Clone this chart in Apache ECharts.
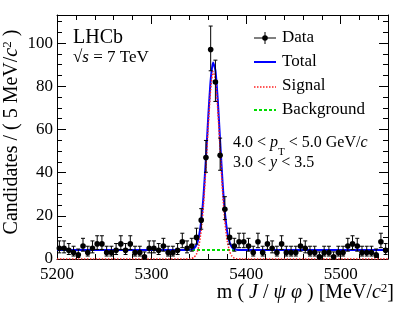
<!DOCTYPE html>
<html><head><meta charset="utf-8">
<script src="https://cdn.jsdelivr.net/npm/echarts@6/dist/echarts.min.js"></script>
<style>html,body{margin:0;padding:0;background:#fff}#c{width:409px;height:310px}</style>
</head><body><div id="c"></div>
<script>
// ---- data ----
const binCenters = [5202.5,5207.5,5212.5,5217.5,5222.5,5227.5,5232.5,5237.5,5242.5,5247.5,
  5252.5,5257.5,5262.5,5267.5,5272.5,5277.5,5282.5,5287.5,5292.5,5297.5,
  5302.5,5307.5,5312.5,5317.5,5322.5,5327.5,5332.5,5337.5,5342.5,5347.5,
  5352.5,5357.5,5362.5,5367.5,5372.5,5377.5,5382.5,5387.5,5392.5,5397.5,
  5402.5,5407.5,5412.5,5417.5,5422.5,5427.5,5432.5,5437.5,5442.5,5447.5,
  5452.5,5457.5,5462.5,5467.5,5472.5,5477.5,5482.5,5487.5,5492.5,5497.5,
  5502.5,5507.5,5512.5,5517.5,5522.5,5527.5,5532.5,5537.5,5542.5,5547.5];
const counts = [5,5,4,3,2,6,3,5,7,7,
  3,3,4,7,4,7,3,3,1,5,
  5,4,6,3,3,4,8,5,6,10,
  18,47,97,82,48,23,10,6,8,8,
  6,3,8,3,7,5,3,7,3,3,
  3,6,5,3,3,1,3,3,1,3,
  3,6,7,6,3,3,3,2,8,4];
const curveMass = [5200,5335,5340,5342.5,5345,5347.5,5350,5352.5,5355,5357.5,5360,5362.5,5365,
  5367.5,5370,5372.5,5375,5377.5,5380,5382.5,5385,5387.5,5390,5395,5550];
const signalCurve = [0,0,0.06,0.24,0.81,2.35,6.0,13.3,25.5,42.7,62.1,78.7,86.8,
  83.2,69.4,50.4,31.8,17.5,8.4,3.5,1.27,0.4,0.11,0,0];
const totalCurve = [4.2,4.2,4.26,4.44,5.01,6.55,10.2,17.5,29.7,46.9,66.3,82.9,91.0,
  87.4,73.6,54.6,36.0,21.7,12.6,7.7,5.47,4.6,4.31,4.2,4.2];
const bkgMass = [5200,5550];
const bkgCurve = [4.2,4.2];
const xTickLabels = [5200,5300,5400,5500];
const yTickLabels = [0,20,40,60,80,100];

// Poisson (Wilson-Hilferty) error bars derived from counts
function poisErr(n){
  if(n===0) return [0,1.84];
  const lo = n*Math.pow(1-1/(9*n)-1/(3*Math.sqrt(n)),3);
  const m=n+1;
  const hi = m*Math.pow(1-1/(9*m)+1/(3*Math.sqrt(m)),3);
  return [n-lo, hi-n];
}
const dataPts = binCenters.map((x,i)=>{const e=poisErr(counts[i]);return [x,counts[i],e[0],e[1]];});
const sig = curveMass.map((x,i)=>[x,signalCurve[i]]);
const tot = curveMass.map((x,i)=>[x,totalCurve[i]]);
const bkg = bkgMass.map((x,i)=>[x,bkgCurve[i]]);

const FONT='"Liberation Serif", "Times New Roman", serif';
const chart = echarts.init(document.getElementById('c'),null,{renderer:'canvas'});

function xAx(extra){return Object.assign({type:'value',min:5200,max:5550,gridIndex:0,
  splitLine:{show:false},axisLine:{show:false,onZero:false,lineStyle:{color:'#000',width:1}},
  axisTick:{show:true,inside:true,length:9,lineStyle:{color:'#000',width:1}},
  axisLabel:{show:false}},extra);}
function yAx(extra){return Object.assign({type:'value',min:0,max:113,gridIndex:0,
  splitLine:{show:false},axisLine:{show:false,onZero:false,lineStyle:{color:'#000',width:1}},
  axisTick:{show:true,inside:true,length:9,lineStyle:{color:'#000',width:1}},
  axisLabel:{show:false}},extra);}

const option = {
  animation:false,
  backgroundColor:'#fff',
  grid:{left:57,right:21,top:15,bottom:51,containLabel:false},
  xAxis:[
    xAx({position:'bottom',interval:100,axisLine:{show:true,onZero:false,lineStyle:{color:'#000',width:1}},
      axisLabel:{show:true,margin:7,color:'#000',fontFamily:FONT,fontSize:17,
        formatter:v=>xTickLabels.indexOf(v)>=0?String(v):''}}),
    xAx({position:'top',interval:100,axisLine:{show:true,onZero:false,lineStyle:{color:'#000',width:1}}}),
    xAx({position:'bottom',interval:20,axisTick:{show:true,inside:true,length:5,lineStyle:{color:'#000'}}}),
    xAx({position:'top',interval:20,axisTick:{show:true,inside:true,length:5,lineStyle:{color:'#000'}}})
  ],
  yAxis:[
    yAx({position:'left',interval:20,axisLine:{show:true,onZero:false,lineStyle:{color:'#000',width:1}},
      axisLabel:{show:true,margin:4,color:'#000',fontFamily:FONT,fontSize:17,
        formatter:v=>yTickLabels.indexOf(v)>=0?String(v):''}}),
    yAx({position:'right',interval:20,axisLine:{show:true,onZero:false,lineStyle:{color:'#000',width:1}}}),
    yAx({position:'left',interval:5,axisTick:{show:true,inside:true,length:5,lineStyle:{color:'#000'}}}),
    yAx({position:'right',interval:5,axisTick:{show:true,inside:true,length:5,lineStyle:{color:'#000'}}})
  ],
  series:[
    {type:'line',name:'Background',data:bkg,xAxisIndex:0,yAxisIndex:0,symbol:'none',z:2,
      lineStyle:{color:'#00dd00',width:2,type:[3,2]}},
    {type:'line',name:'Total',data:tot,xAxisIndex:0,yAxisIndex:0,symbol:'none',z:3,smooth:0.2,
      lineStyle:{color:'#0000ff',width:2}},
    {type:'line',name:'Signal',data:sig,xAxisIndex:0,yAxisIndex:0,symbol:'none',z:4,smooth:0.2,
      lineStyle:{color:'#ff2020',width:1.5,type:[1.5,1.5]}},
    {type:'custom',name:'Data',data:dataPts,xAxisIndex:0,yAxisIndex:0,z:5,
      encode:{x:0,y:1},
      renderItem:function(params,api){
        const x=api.value(0),y=api.value(1),lo=api.value(2),hi=api.value(3);
        const p=api.coord([x,y]),a=api.coord([x,y-lo]),b=api.coord([x,y+hi]);
        const st={stroke:'#000',lineWidth:1};
        return {type:'group',children:[
          {type:'line',shape:{x1:p[0],y1:a[1],x2:p[0],y2:b[1]},style:st},
          {type:'line',shape:{x1:p[0]-2,y1:a[1],x2:p[0]+2,y2:a[1]},style:st},
          {type:'line',shape:{x1:p[0]-2,y1:b[1],x2:p[0]+2,y2:b[1]},style:st},
          {type:'circle',shape:{cx:p[0],cy:p[1],r:2.8},style:{fill:'#000'}}
        ]};
      }}
  ],
  graphic:[
    // y axis title
    {type:'text',x:12,y:132,rotation:Math.PI/2,style:{
      text:'{n|Candidates / ( 5 MeV/}{i|c}{s|2}{n| )}',textAlign:'center',textVerticalAlign:'middle',
      rich:{n:{fontFamily:FONT,fontSize:20,lineHeight:22,verticalAlign:'middle',fill:'#000'},
            i:{fontFamily:FONT,fontSize:20,fontStyle:'italic',lineHeight:22,verticalAlign:'middle',fill:'#000'},
            s:{fontFamily:FONT,fontSize:13,lineHeight:12,verticalAlign:'top',fill:'#000'}}}},
    // x axis title
    {type:'text',x:394,y:293,style:{
      text:'{n|m ( }{i|J}{n| / }{i|ψ φ}{n| ) [MeV/}{i|c}{s|2}{n|]}',textAlign:'right',textVerticalAlign:'middle',
      rich:{n:{fontFamily:FONT,fontSize:20,lineHeight:22,verticalAlign:'middle',fill:'#000'},
            i:{fontFamily:FONT,fontSize:20,fontStyle:'italic',lineHeight:22,verticalAlign:'middle',fill:'#000'},
            s:{fontFamily:FONT,fontSize:13,lineHeight:12,verticalAlign:'top',fill:'#000'}}}},
    // LHCb label
    {type:'text',x:73,y:38,style:{text:'LHCb',font:'20px '+FONT,fill:'#000',textVerticalAlign:'middle'}},
    {type:'text',x:73,y:58,style:{text:'{n|√}{i|s}{n| = 7 TeV}',textVerticalAlign:'middle',
      rich:{n:{fontFamily:FONT,fontSize:17,fill:'#000'},i:{fontFamily:FONT,fontSize:17,fontStyle:'italic',fill:'#000'}}}},
    // legend
    {type:'line',shape:{x1:254,y1:38,x2:276,y2:38},style:{stroke:'#000',lineWidth:1}},
    {type:'line',shape:{x1:265,y1:32,x2:265,y2:44},style:{stroke:'#000',lineWidth:1}},
    {type:'circle',shape:{cx:265,cy:38,r:2.8},style:{fill:'#000'}},
    {type:'text',x:282,y:38,style:{text:'Data',font:'17px '+FONT,fill:'#000',textVerticalAlign:'middle'}},
    {type:'line',shape:{x1:254,y1:62,x2:276,y2:62},style:{stroke:'#0000ff',lineWidth:2}},
    {type:'text',x:282,y:62,style:{text:'Total',font:'17px '+FONT,fill:'#000',textVerticalAlign:'middle'}},
    {type:'line',shape:{x1:254,y1:87,x2:276,y2:87},style:{stroke:'#ff2020',lineWidth:1.5,lineDash:[1.5,1.5]}},
    {type:'text',x:282,y:86,style:{text:'Signal',font:'17px '+FONT,fill:'#000',textVerticalAlign:'middle'}},
    {type:'line',shape:{x1:254,y1:110,x2:276,y2:110},style:{stroke:'#00dd00',lineWidth:2,lineDash:[3,2]}},
    {type:'text',x:282,y:110,style:{text:'Background',font:'17px '+FONT,fill:'#000',textVerticalAlign:'middle'}},
    // kinematic ranges
    {type:'text',x:233,y:143,style:{text:'{n|4.0 < }{i|p}{b|T}{n| < 5.0 GeV/}{i|c}',textVerticalAlign:'middle',
      rich:{n:{fontFamily:FONT,fontSize:16,lineHeight:30,verticalAlign:'middle',fill:'#000'},
            i:{fontFamily:FONT,fontSize:16,fontStyle:'italic',lineHeight:30,verticalAlign:'middle',fill:'#000'},
            b:{fontFamily:FONT,fontSize:11,lineHeight:10,verticalAlign:'bottom',fill:'#000'}}}},
    {type:'text',x:233,y:163,style:{text:'{n|3.0 < }{i|y}{n| < 3.5}',textVerticalAlign:'middle',
      rich:{n:{fontFamily:FONT,fontSize:16,fill:'#000'},i:{fontFamily:FONT,fontSize:16,fontStyle:'italic',fill:'#000'}}}}
  ]
};
chart.setOption(option);
</script>
</body></html>
